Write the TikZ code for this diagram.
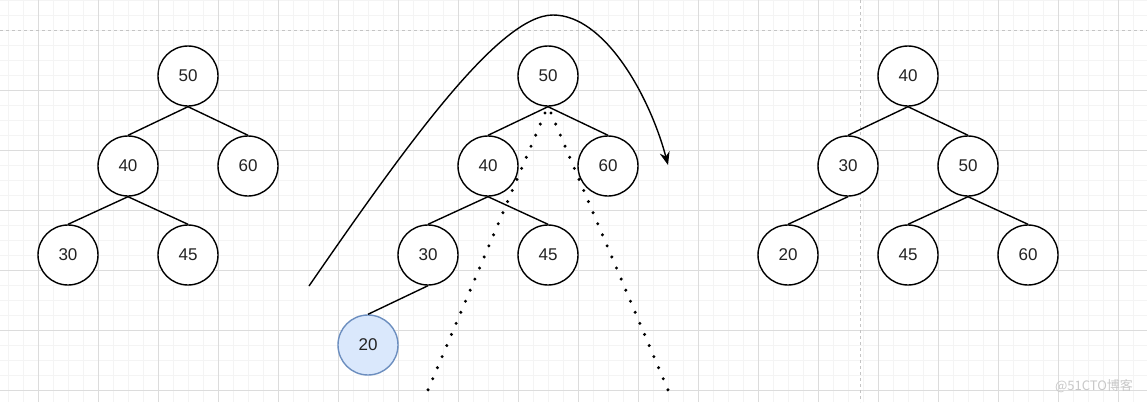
\documentclass[tikz,border=0pt]{standalone}
\usepackage{fontspec}
\setmainfont{Liberation Sans}
\newfontfamily\cjk{Noto Sans CJK SC}
\usetikzlibrary{arrows.meta}
\definecolor{gridminor}{HTML}{F4F4F4}
\definecolor{gridmajor}{HTML}{DCDCDC}
\definecolor{pagebreak}{HTML}{C4C4C4}
\definecolor{bluefill}{HTML}{DAE8FC}
\definecolor{bluedraw}{HTML}{6C8EBF}
\definecolor{txt}{HTML}{222222}
\definecolor{wm}{HTML}{C8C8C8}
\begin{document}
\begin{tikzpicture}[x=1pt,y=-1pt,
  treenode/.style={circle, draw=black, line width=1.4pt, minimum size=60pt, inner sep=0pt,
    font=\fontsize{17}{17}\selectfont, text=txt, fill=white},
  newnode/.style={treenode, fill=bluefill, draw=bluedraw},
  edge/.style={line width=1.4pt},
  dotline/.style={line width=3.4pt, line cap=round, dash pattern=on 0pt off 12.02pt},
  swing/.style={line width=1.4pt, -{Stealth[length=13pt,width=10pt]}},
  pb/.style={pagebreak, line width=0.8pt, dash pattern=on 3pt off 3pt}
]
\useasboundingbox (0,0) rectangle (1147,402);
\fill[white] (0,0) rectangle (1147,402);
% grid
\foreach \x in {8,23,...,1147} \draw[gridminor, line width=0.8pt] (\x,0) -- (\x,402);
\foreach \y in {0,15,...,402} \draw[gridminor, line width=0.8pt] (0,\y) -- (1147,\y);
\foreach \x in {38,98,...,1147} \draw[gridmajor, line width=0.8pt] (\x,0) -- (\x,402);
\foreach \y in {90,150,...,402} \draw[gridmajor, line width=0.8pt] (0,\y) -- (1147,\y);
% page break lines
\draw[pb] (0,30) -- (1147,30);
\draw[pb] (860,0) -- (860,402);

% left tree
\node[treenode] (l50) at (188,76) {50};
\node[treenode] (l40) at (128,166) {40};
\node[treenode] (l60) at (248,166) {60};
\node[treenode] (l30) at (68,255) {30};
\node[treenode] (l45) at (188,255) {45};
\draw[edge] (l50.south) -- (l40.north);
\draw[edge] (l50.south) -- (l60.north);
\draw[edge] (l40.south) -- (l30.north);
\draw[edge] (l40.south) -- (l45.north);

% middle tree
\node[treenode] (m50) at (548,76) {50};
\node[treenode] (m40) at (488,166) {40};
\node[treenode] (m60) at (608,166) {60};
\node[treenode] (m30) at (428,255) {30};
\node[treenode] (m45) at (548,255) {45};
\node[newnode] (m20) at (368,345) {20};
\draw[edge] (m50.south) -- (m40.north);
\draw[edge] (m50.south) -- (m60.north);
\draw[edge] (m40.south) -- (m30.north);
\draw[edge] (m40.south) -- (m45.north);
\draw[edge] (m30.south) -- (m20.north);

% dotted guide lines
\coordinate (dl1) at (545,113);
\coordinate (dl2) at (428,390);
\coordinate (dr1) at (551,113);
\coordinate (dr2) at (668,390);
\draw[dotline] (dl1) -- (dl2);
\draw[dotline] (dr1) -- (dr2);

% rotation arrow
\coordinate (sw0) at (309,286);
\coordinate (sw1) at (553,15);
\coordinate (sw2) at (668,165);
\draw[swing] (sw0) .. controls (409,141) and (500,15) .. (sw1)
                   .. controls (605,15) and (650,97) .. (sw2);

% right tree
\node[treenode] (r40) at (908,76) {40};
\node[treenode] (r30) at (848,166) {30};
\node[treenode] (r50) at (968,166) {50};
\node[treenode] (r20) at (788,255) {20};
\node[treenode] (r45) at (908,255) {45};
\node[treenode] (r60) at (1028,255) {60};
\draw[edge] (r40.south) -- (r30.north);
\draw[edge] (r40.south) -- (r50.north);
\draw[edge] (r30.south) -- (r20.north);
\draw[edge] (r50.south) -- (r45.north);
\draw[edge] (r50.south) -- (r60.north);

% watermark
\node[text=wm, font=\cjk\fontsize{13}{13}\selectfont, inner sep=0pt] (wmark) at (1094,386) {@51CTO博客};
\end{tikzpicture}
\end{document}
